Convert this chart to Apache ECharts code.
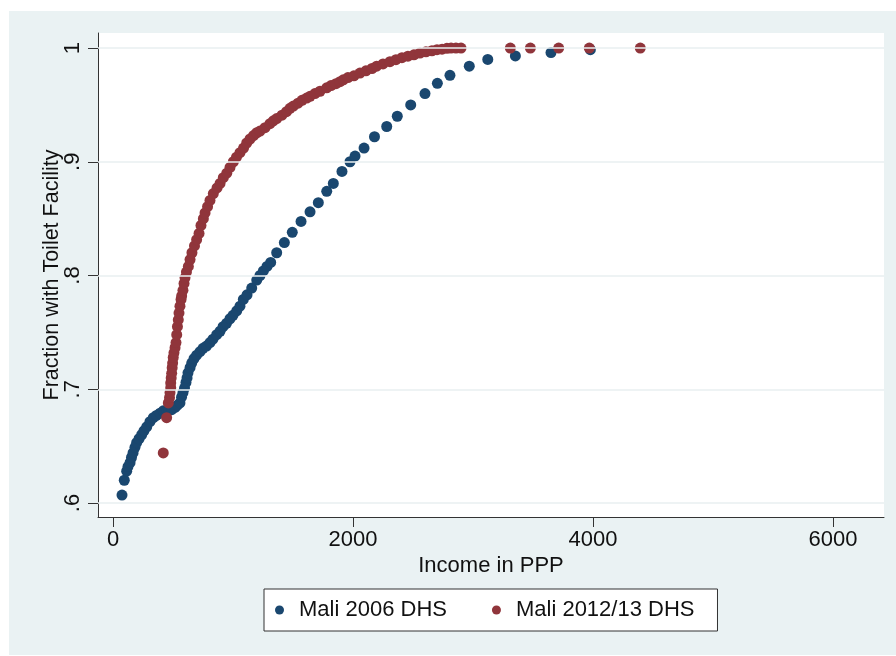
<!DOCTYPE html>
<html>
<head>
<meta charset="utf-8">
<script src="https://cdn.jsdelivr.net/npm/echarts@6/dist/echarts.min.js"></script>
<style>
  html, body { margin: 0; padding: 0; background: #ffffff; }
  #bg { position: absolute; left: 9px; top: 11px; width: 887px; height: 644px; background: #eaf2f3; }
  #chart { position: absolute; left: 0; top: 0; width: 896px; height: 656px; }
</style>
</head>
<body>
<div id="bg"></div>
<div id="chart"></div>
<script>
// ---- data ----
const xTicks = [0, 2000, 4000, 6000];
const xTickLabels = ['0', '2000', '4000', '6000'];
const yTicks = [0.6, 0.7, 0.8, 0.9, 1.0];
const yTickLabels = ['.6', '.7', '.8', '.9', '1'];

const seriesNames = ['Mali 2006 DHS', 'Mali 2012/13 DHS'];

const income2006 = [75,94,114,125,142,154,167,183,197,217,239,258,281,308,336,362,392,419,447,467,489,517,537,558,571,583,596,608,617,625,642,656,675,697,725,750,779,808,833,864,892,917,946,975,1000,1031,1058,1086,1117,1156,1198,1225,1253,1283,1314,1364,1428,1494,1567,1642,1711,1781,1836,1908,1975,2017,2092,2179,2281,2369,2481,2600,2703,2808,2969,3123,3353,3650,3978];
const fraction2006 = [0.607,0.620,0.628,0.632,0.6355,0.640,0.644,0.649,0.653,0.6565,0.660,0.6635,0.667,0.6715,0.675,0.677,0.679,0.681,0.681,0.682,0.682,0.684,0.686,0.688,0.693,0.697,0.701,0.706,0.710,0.7145,0.719,0.723,0.727,0.730,0.733,0.736,0.738,0.741,0.744,0.748,0.751,0.755,0.758,0.762,0.765,0.769,0.773,0.779,0.783,0.789,0.796,0.800,0.804,0.808,0.8115,0.820,0.829,0.838,0.8475,0.856,0.864,0.874,0.881,0.8915,0.900,0.905,0.912,0.922,0.931,0.940,0.950,0.960,0.969,0.976,0.984,0.990,0.993,0.996,0.9985];

const income2012 = [419,447,461,471,475,481,481,485,489,493,497,502,508,517,525,531,537,544,550,558,567,572,583,592,600,612,628,642,658,679,697,717,733,753,767,788,808,836,867,892,919,948,975,1003,1029,1058,1088,1114,1142,1171,1198,1225,1267,1308,1336,1364,1408,1446,1475,1503,1542,1575,1614,1642,1683,1725,1781,1817,1858,1892,1919,1958,2008,2058,2108,2158,2197,2250,2308,2358,2408,2458,2508,2558,2608,2658,2700,2742,2783,2817,2858,2900,3311,3478,3714,3969,4394];
const fraction2012 = [0.644,0.675,0.688,0.6926,0.697,0.7014,0.7055,0.710,0.714,0.719,0.723,0.728,0.732,0.7365,0.741,0.748,0.755,0.761,0.767,0.773,0.779,0.782,0.787,0.793,0.798,0.803,0.808,0.814,0.820,0.826,0.8315,0.837,0.844,0.850,0.855,0.8605,0.866,0.872,0.877,0.881,0.886,0.890,0.895,0.900,0.904,0.908,0.912,0.9165,0.920,0.923,0.9255,0.927,0.930,0.9335,0.936,0.938,0.941,0.944,0.947,0.949,0.9515,0.954,0.956,0.9575,0.960,0.962,0.965,0.967,0.9686,0.9704,0.972,0.974,0.9756,0.978,0.980,0.982,0.984,0.986,0.988,0.9897,0.9915,0.9928,0.994,0.9956,0.9967,0.9976,0.9985,0.999,0.9997,1,1,1,1,1,1,1,1];

// ---- chart ----
const FONT = '"Liberation Sans", Arial, Helvetica, sans-serif';
const pair = (xs, ys) => xs.map((x, i) => [x, ys[i]]);
const labelFor = (ticks, labels) => function (v) {
  for (let i = 0; i < ticks.length; i++) {
    if (Math.abs(ticks[i] - v) < 1e-6) return labels[i];
  }
  return '';
};

const chart = echarts.init(document.getElementById('chart'), null, { renderer: 'canvas' });
chart.setOption({
  animation: false,
  backgroundColor: 'transparent',
  textStyle: { fontFamily: FONT },
  grid: {
    left: 98, right: 12, top: 33, bottom: 139,
    show: true, backgroundColor: '#ffffff', borderWidth: 0
  },
  legend: {
    data: seriesNames,
    left: 264, top: 589,
    orient: 'horizontal',
    icon: 'circle',
    itemWidth: 9, itemHeight: 9,
    itemGap: 45,
    padding: [10, 23, 10, 11],
    backgroundColor: '#ffffff',
    borderColor: '#333333', borderWidth: 1, borderRadius: 0,
    textStyle: { fontFamily: FONT, fontSize: 22, color: '#111111', padding: [0, 0, 0, 10] }
  },
  xAxis: {
    type: 'value',
    min: -125, max: 6425,
    name: 'Income in PPP',
    nameLocation: 'middle',
    nameGap: 38,
    nameMoveOverlap: false,
    nameTextStyle: { fontFamily: FONT, fontSize: 22, color: '#111111' },
    axisLine: { show: true, onZero: false, lineStyle: { color: '#333333', width: 1 } },
    axisTick: { show: true, customValues: xTicks, length: 10, lineStyle: { color: '#333333' } },
    axisLabel: {
      customValues: xTicks, fontFamily: FONT, fontSize: 22, color: '#111111', margin: 12,
      formatter: labelFor(xTicks, xTickLabels)
    },
    splitLine: { show: false }
  },
  yAxis: {
    type: 'value',
    min: 0.5877, max: 1.0132,
    name: 'Fraction with Toilet Facility',
    nameLocation: 'middle',
    nameGap: 35,
    nameMoveOverlap: false,
    nameRotate: 90,
    nameTextStyle: { fontFamily: FONT, fontSize: 21.5, color: '#111111' },
    axisLine: { show: true, onZero: false, lineStyle: { color: '#333333', width: 1 } },
    axisTick: { show: true, customValues: yTicks, length: 10, lineStyle: { color: '#333333' } },
    axisLabel: {
      customValues: yTicks,
      rotate: 90,
      fontFamily: FONT, fontSize: 22, color: '#111111', margin: 14,
      formatter: labelFor(yTicks, yTickLabels)
    },
    splitLine: { show: false }
  },
  series: [
    {
      name: 'gridlines',
      type: 'scatter',
      data: [],
      z: 1,
      silent: true,
      markLine: {
        silent: true,
        symbol: ['none', 'none'],
        label: { show: false },
        lineStyle: { color: '#e9eff1', width: 1.5, type: 'solid' },
        data: yTicks.map(v => ({ yAxis: v }))
      }
    },
    {
      name: seriesNames[0],
      type: 'scatter',
      symbol: 'circle',
      symbolSize: 11,
      z: 3,
      itemStyle: { color: '#1a476f', opacity: 1 },
      data: pair(income2006, fraction2006)
    },
    {
      name: seriesNames[1],
      type: 'scatter',
      symbol: 'circle',
      symbolSize: 11,
      z: 4,
      itemStyle: { color: '#90353b', opacity: 1 },
      data: pair(income2012, fraction2012)
    }
  ]
});
</script>
</body>
</html>
